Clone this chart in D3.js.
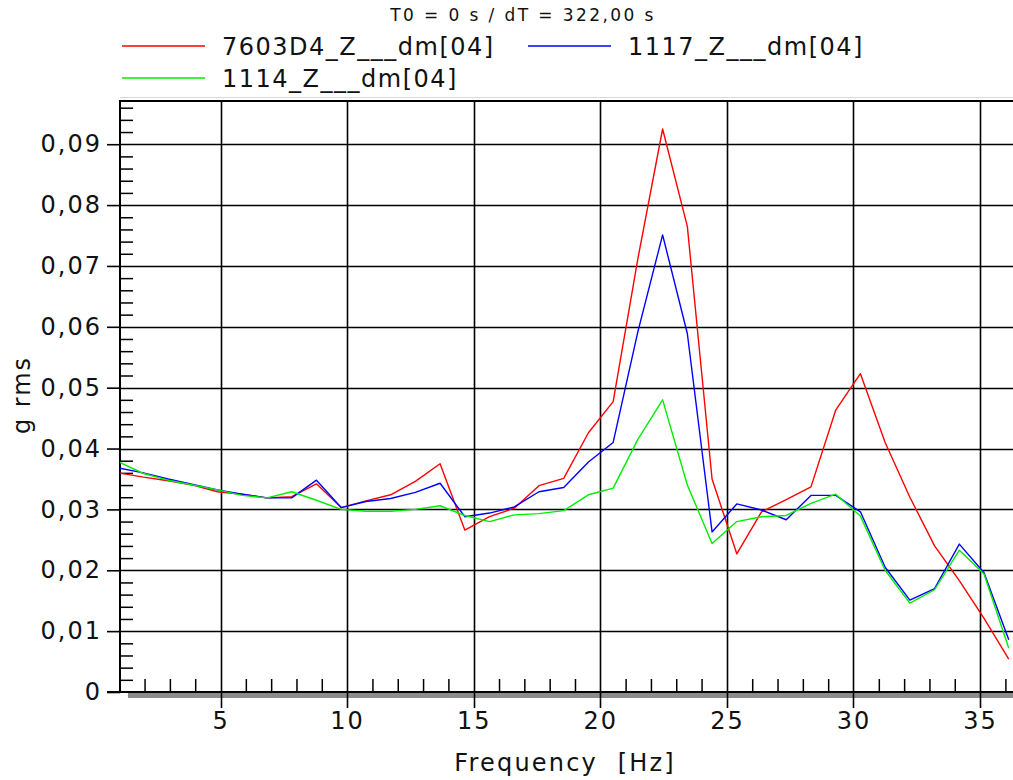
<!DOCTYPE html>
<html>
<head>
<meta charset="utf-8">
<script src="https://cdn.jsdelivr.net/npm/d3@7"></script>
<style>
  html, body { margin: 0; padding: 0; background: #fff; }
  svg { display: block; }
  text { font-family: "DejaVu Sans", Verdana, sans-serif; fill: #111; }
</style>
</head>
<body>
<svg id="chart" width="1013" height="780"></svg>
<script>
// ---- data ----
const binWidth = 0.9765625; // Hz (1000/1024)
const binIndex = d3.range(1, 38);
const frequencies = binIndex.map(k => k * binWidth);

const seriesNames = ["7603D4_Z___dm[04]", "1117_Z___dm[04]", "1114_Z___dm[04]"];
const seriesColors = ["#ff0000", "#0000ff", "#00ee00"];

const red = [0.0360,0.0353,0.0347,0.0340,0.0329,0.0325,0.0319,0.0321,0.0342,0.0303,
             0.0314,0.0324,0.0346,0.0375,0.0266,0.0288,0.0302,0.0339,0.0351,0.0426,
             0.0477,0.0712,0.0925,0.0765,0.0350,0.0227,0.0296,0.0316,0.0337,0.0463,
             0.0523,0.0410,0.0320,0.0240,0.0183,0.0121,0.0054];
const blue = [0.0368,0.0360,0.0350,0.0341,0.0332,0.0325,0.0319,0.0319,0.0348,0.0303,
              0.0313,0.0318,0.0328,0.0343,0.0288,0.0294,0.0304,0.0329,0.0336,0.0378,
              0.0410,0.0592,0.0751,0.0589,0.0263,0.0309,0.0299,0.0283,0.0323,0.0323,
              0.0296,0.0205,0.0151,0.0170,0.0243,0.0196,0.0086];
const green = [0.0378,0.0359,0.0348,0.0340,0.0332,0.0323,0.0319,0.0329,0.0315,0.0300,
               0.0297,0.0297,0.0300,0.0306,0.0290,0.0280,0.0291,0.0293,0.0298,0.0324,
               0.0335,0.0415,0.0480,0.0340,0.0244,0.0280,0.0288,0.0290,0.0310,0.0325,
               0.0289,0.0200,0.0146,0.0168,0.0233,0.0194,0.0072];
const seriesValues = [red, blue, green];

const xMajorTicks = [5, 10, 15, 20, 25, 30, 35];
const xMinorTicks = d3.range(2, 37);
const yMajorTicks = [0, 0.01, 0.02, 0.03, 0.04, 0.05, 0.06, 0.07, 0.08, 0.09];
const yMinorTicks = d3.range(0, 49).map(i => i * 0.002);
const yTickLabels = ["0", "0,01", "0,02", "0,03", "0,04", "0,05", "0,06", "0,07", "0,08", "0,09"];

const titleText = "T0 = 0 s / dT = 322,00 s";
const xTitle = "Frequency\u00a0\u00a0[Hz]";
const yTitle = "g rms";

// ---- layout ----
const svg = d3.select("#chart");
const pLeft = 120, pTop = 101, pBottom = 692, pRight = 1013;
const FONT = '"DejaVu Sans", Verdana, sans-serif';

const x = d3.scaleLinear().domain([1.03, 36.3]).range([pLeft, pRight]);
const y = d3.scaleLinear().domain([0, 0.0971]).range([pBottom, pTop]);

svg.append("defs").append("clipPath").attr("id", "plotclip")
  .append("rect").attr("x", pLeft).attr("y", pTop).attr("width", pRight - pLeft).attr("height", pBottom - pTop);

// title
svg.append("text").attr("x", 523).attr("y", 21).attr("text-anchor", "middle")
  .attr("font-size", 17).attr("letter-spacing", 2.4).text(titleText);

// legend
const legendPos = [[122, 46], [528, 46], [122, 78]];
seriesNames.forEach((name, i) => {
  const [lx, ly] = legendPos[i];
  svg.append("line").attr("x1", lx).attr("x2", lx + 83).attr("y1", ly).attr("y2", ly)
    .attr("stroke", seriesColors[i]).attr("stroke-width", 1.6);
  svg.append("text").attr("x", lx + 100).attr("y", ly + 9)
    .attr("font-size", 24).attr("letter-spacing", 1.5).text(name);
});

// faint separator line above plot
svg.append("line").attr("x1", pLeft).attr("x2", pRight).attr("y1", 97.5).attr("y2", 97.5)
  .attr("stroke", "#d8d8d8").attr("stroke-width", 1);

// shadow under x axis
svg.append("rect").attr("x", 128).attr("y", 693).attr("width", pRight - 128).attr("height", 5)
  .attr("fill", "#8c8c8c");

const grid = svg.append("g");
grid.selectAll("line.hg").data(yMajorTicks.filter(v => v > 0)).join("line")
  .attr("x1", pLeft).attr("x2", pRight)
  .attr("y1", d => Math.round(y(d)) + 0.5).attr("y2", d => Math.round(y(d)) + 0.5)
  .attr("stroke", "#000").attr("stroke-width", 1.6);
grid.selectAll("line.vg").data(xMajorTicks).join("line")
  .attr("x1", d => Math.round(x(d)) + 0.5).attr("x2", d => Math.round(x(d)) + 0.5)
  .attr("y1", pTop).attr("y2", pBottom + 16)
  .attr("stroke", "#000").attr("stroke-width", 1.6);
grid.append("line").attr("x1", pLeft).attr("x2", pRight).attr("y1", pTop).attr("y2", pTop)
  .attr("stroke", "#000").attr("stroke-width", 1.8);

// y axis (major ticks outward, labels)
const yAxis = d3.axisLeft(y).tickValues(yMajorTicks).tickSize(13).tickPadding(5)
  .tickFormat((d, i) => yTickLabels[i]);
const gy = svg.append("g").attr("transform", `translate(${pLeft},0)`).call(yAxis);
gy.select(".domain").remove();
gy.selectAll(".tick line").attr("stroke", "#000").attr("stroke-width", 1.6);
gy.selectAll(".tick text").attr("font-size", 24).attr("letter-spacing", 2)
  .attr("fill", "#111").style("font-family", FONT);

// y minor ticks (inside)
const yMinor = d3.axisRight(y)
  .tickValues(yMinorTicks.filter(v => v <= 0.0971 && Math.abs(v * 100 - Math.round(v * 100)) > 1e-6))
  .tickSize(13).tickFormat("");
const gym = svg.append("g").attr("transform", `translate(${pLeft},0)`).call(yMinor);
gym.select(".domain").remove();
gym.selectAll(".tick line").attr("stroke", "#000").attr("stroke-width", 1.5);

// x minor ticks (inside, upward)
const xMinor = d3.axisTop(x).tickValues(xMinorTicks.filter(v => v % 5 !== 0)).tickSize(13).tickFormat("");
const gxm = svg.append("g").attr("transform", `translate(0,${pBottom})`).call(xMinor);
gxm.select(".domain").remove();
gxm.selectAll(".tick line").attr("stroke", "#000").attr("stroke-width", 1.5);

// x axis labels
const xAxis = d3.axisBottom(x).tickValues(xMajorTicks).tickSize(0).tickPadding(20);
const gx = svg.append("g").attr("transform", `translate(0,${pBottom})`).call(xAxis);
gx.select(".domain").remove();
gx.selectAll(".tick text").attr("font-size", 24).attr("letter-spacing", 2)
  .attr("fill", "#111").style("font-family", FONT);

// axis lines
svg.append("line").attr("x1", pLeft).attr("x2", pLeft).attr("y1", pTop - 1).attr("y2", pBottom + 1)
  .attr("stroke", "#000").attr("stroke-width", 2);
svg.append("line").attr("x1", pLeft - 13).attr("x2", pRight).attr("y1", pBottom).attr("y2", pBottom)
  .attr("stroke", "#000").attr("stroke-width", 2);

// axis titles
svg.append("text").attr("x", 565).attr("y", 771).attr("text-anchor", "middle")
  .attr("font-size", 24).attr("letter-spacing", 2.2).text(xTitle);
svg.append("text").attr("transform", "translate(30,395) rotate(-90)").attr("text-anchor", "middle")
  .attr("font-size", 24).attr("letter-spacing", 2).text(yTitle);

// series lines
const line = d3.line().x((d, i) => x(frequencies[i])).y(d => y(d));
const plot = svg.append("g").attr("clip-path", "url(#plotclip)");
seriesValues.forEach((vals, i) => {
  plot.append("path").datum(vals).attr("d", line)
    .attr("fill", "none").attr("stroke", seriesColors[i]).attr("stroke-width", 1.4)
    .attr("stroke-linejoin", "round");
});
</script>
</body>
</html>
